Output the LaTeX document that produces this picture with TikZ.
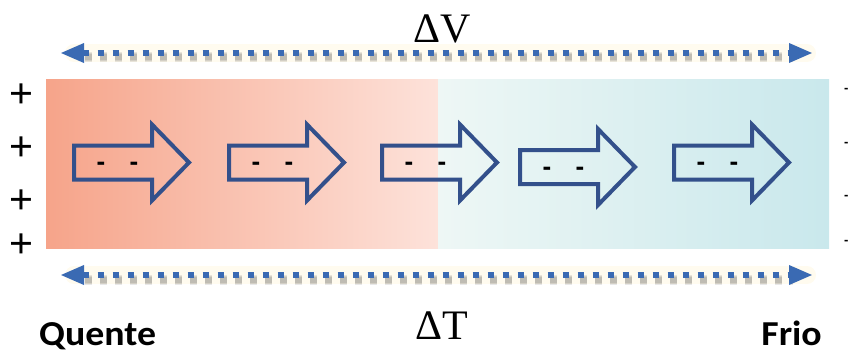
\documentclass[tikz,border=0pt]{standalone}
\usepackage{fontspec}
\setmainfont{Liberation Serif}
\newfontfamily\labelfont{Carlito}
\newfontfamily\signfont{Liberation Sans}
\usetikzlibrary{arrows.meta}

\definecolor{hotL}{HTML}{F6A48A}
\definecolor{hotR}{HTML}{FDE2DA}
\definecolor{coldL}{HTML}{EEF7F5}
\definecolor{coldR}{HTML}{C9E8EC}
\definecolor{flowblue}{HTML}{33508B}
\definecolor{dotblue}{HTML}{3A6AB3}
\definecolor{halo}{HTML}{FFFBEF}

\tikzset{
  dotline/.style={dotblue, line width=6.5pt, dash pattern=on 6pt off 9pt,
    {Triangle[length=24pt,width=18pt]}-{Triangle[length=24pt,width=18pt]}},
  dotshadow/.style={black, opacity=0.09, line width=#1, dash pattern=on 7pt off 8pt},
  dothalo/.style={halo, line width=18pt, line cap=round},
  charge/.style={font=\signfont\fontsize{41}{41}\selectfont, inner sep=0pt, anchor=base},
  edgecharge/.style={font=\signfont\bfseries\fontsize{13}{13}\selectfont, inner sep=0pt, anchor=base west},
  electron/.style={font=\signfont\bfseries\fontsize{26}{26}\selectfont, inner sep=0pt, anchor=base},
  delta/.style={font=\fontsize{42}{42}\selectfont, inner sep=0pt},
  endlabel/.style={font=\labelfont\bfseries\fontsize{35}{35}\selectfont, inner sep=0pt},
  blockarrow/.pic={
    \draw[flowblue, line width=4pt, miter limit=10]
      (0,-17) -- (78,-17) -- (78,-38) -- (115,0) -- (78,38) -- (78,17) -- (0,17) -- cycle;
    \node[electron] (-m1) at (27,8) {-};
    \node[electron] (-m2) at (60,8) {-};
  }
}

\begin{document}
\begin{tikzpicture}[x=1pt, y=-1pt]
  \useasboundingbox (0,0) rectangle (849,353);

  % warm and cold halves of the bar
  \shade[left color=hotL, right color=hotR] (46,80) rectangle (438,248.5);
  \shade[left color=coldL, right color=coldR] (438,80) rectangle (829,248.5);

  % end points of the two double arrows
  \coordinate (vL) at (60,53);
  \coordinate (vR) at (813,53);
  \coordinate (tL) at (60,275);
  \coordinate (tR) at (813,275);

  % halo and soft drop shadow under the dotted arrows
  \draw[dothalo] ([xshift=14pt]vL) -- ([xshift=-6pt]vR);
  \draw[dothalo] ([xshift=14pt]tL) -- ([xshift=-6pt]tR);
  \foreach \w in {10pt,8pt,6pt} {
    \draw[dotshadow=\w] ([shift={(25,4.5)}]vL) -- ([shift={(-20,4.5)}]vR);
    \draw[dotshadow=\w] ([shift={(25,4.5)}]tL) -- ([shift={(-20,4.5)}]tR);
  }

  % dotted double arrows
  \draw[dotline] (vL) -- (vR);
  \draw[dotline] (tL) -- (tR);

  % labels
  \node[delta] (dV) at (442,29) {ΔV};
  \node[delta] (dT) at (442,326) {ΔT};
  \node[endlabel, anchor=base west] (hot) at (39,345) {\scalebox{1.08}[1]{Quente}};
  \node[endlabel, anchor=base east] (cold) at (822,345) {\scalebox{1.08}[1]{Frio}};

  % electron flow arrows
  \pic (a1) at (74,162.5) {blockarrow};
  \pic (a2) at (229,162.5) {blockarrow};
  \pic (a3) at (382,162.5) {blockarrow};
  \pic (a4) at (520,167) {blockarrow};
  \pic (a5) at (674,162.5) {blockarrow};

  % charges on the hot side
  \node[charge] (p1) at (21,107.5) {+};
  \node[charge] (p2) at (21,160.5) {+};
  \node[charge] (p3) at (21,213.5) {+};
  \node[charge] (p4) at (21,257.5) {+};

  % charges on the cold side
  \node[edgecharge] (n1) at (844,92.5) {-};
  \node[edgecharge] (n2) at (844,146.5) {-};
  \node[edgecharge] (n3) at (844,199.5) {-};
  \node[edgecharge] (n4) at (844,244.5) {-};
\end{tikzpicture}
\end{document}
